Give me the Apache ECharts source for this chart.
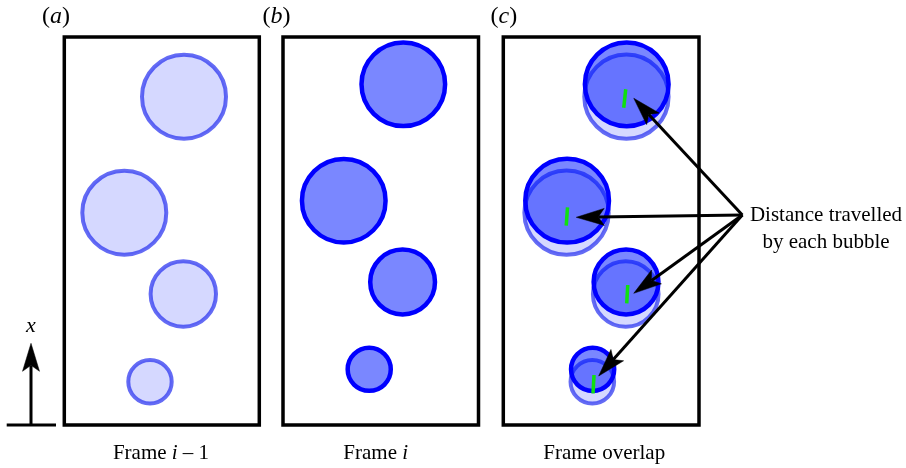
<!DOCTYPE html>
<html>
<head>
<meta charset="utf-8">
<script src="https://cdn.jsdelivr.net/npm/echarts@6/dist/echarts.min.js"></script>
<style>
  html, body { margin: 0; padding: 0; background: #fff; }
  #chart { width: 906px; height: 468px; }
</style>
</head>
<body>
<div id="chart"></div>
<script>
// Bubble centres and radii in frame units (x across the column, y up the column)
const prevX = [119.7, 60.0, 119.0, 85.7];
const prevY = [328.3, 212.3, 131.0, 43.3];
const prevR = [42.0, 42.0, 32.7, 21.7];

const currX = [120.0, 60.6, 119.3, 86.0];
const currY = [340.7, 224.3, 143.0, 55.7];
const currR = [41.7, 41.7, 32.3, 21.5];

// Displacement markers drawn in the overlap frame: [x1, y1, x2, y2]
const stepX1 = [117.0, 59.7, 120.0, 86.4];
const stepY1 = [317.3, 199.3, 121.7, 31.7];
const stepX2 = [119.0, 61.0, 121.0, 87.4];
const stepY2 = [335.7, 217.7, 140.0, 50.0];

// Call-out arrows: a shared origin and one tip per bubble
const calloutOrigin = [235.2, 210.0];
const tipX = [127.0, 69.7, 127.0, 92.0];
const tipY = [326.7, 207.7, 131.7, 49.0];

const panelTags = ['a', 'b', 'c'];
const frameNames = ['Frame {i|i} \u2013 1', 'Frame {i|i}', 'Frame overlap'];
const calloutText = ['Distance travelled', 'by each bubble'];

const FRAME_W = 195, FRAME_H = 388;
const SERIF = '"Liberation Serif", "Times New Roman", serif';
const FS = 21;
const TAG_FS = 24;

const LIGHT = { fill: 'rgba(30,50,255,0.19)', stroke: 'rgba(40,50,240,0.72)', lineWidth: 4 };
const DARK = { fill: 'rgba(0,25,255,0.52)', stroke: '#0000ff', lineWidth: 4.5 };

const chart = echarts.init(document.getElementById('chart'), null, { renderer: 'canvas' });

const gridBoxes = [
  { left: 64.3, top: 37, width: 195, height: 388 },
  { left: 283, top: 37, width: 195.5, height: 388 },
  { left: 503.3, top: 37, width: 195.7, height: 388 }
];
// the overlap frame's content sits a touch to the right inside its box
const xShift = [0, 0, -3];

function bubbleSeries(gi, xs, ys, rs, style, z) {
  return {
    type: 'custom', xAxisIndex: gi, yAxisIndex: gi, z: z, silent: true, clip: false,
    data: xs.map((x, i) => [x, ys[i], rs[i]]),
    encode: { x: 0, y: 1 },
    renderItem: function (params, api) {
      const c = api.coord([api.value(0), api.value(1)]);
      const r = api.size([api.value(2), 0])[0];
      return { type: 'circle', shape: { cx: c[0], cy: c[1], r: r }, style: Object.assign({}, style) };
    }
  };
}

const stepSeries = {
  type: 'custom', xAxisIndex: 2, yAxisIndex: 2, z: 5, silent: true, clip: false,
  data: stepX1.map((x, i) => [x, stepY1[i], stepX2[i], stepY2[i]]),
  encode: { x: [0, 2], y: [1, 3] },
  renderItem: function (params, api) {
    const a = api.coord([api.value(0), api.value(1)]);
    const b = api.coord([api.value(2), api.value(3)]);
    return { type: 'line', shape: { x1: a[0], y1: a[1], x2: b[0], y2: b[1] },
      style: { stroke: '#10e010', lineWidth: 3.5 } };
  }
};

function arrowShapes(o, t, color, width) {
  const dx = t[0] - o[0], dy = t[1] - o[1];
  const len = Math.hypot(dx, dy);
  const ux = dx / len, uy = dy / len;
  const nx = -uy, ny = ux;
  const L = 28, HW = 8.5, NOTCH = 22;
  const bx = t[0] - ux * L, by = t[1] - uy * L;
  const mx = t[0] - ux * NOTCH, my = t[1] - uy * NOTCH;
  return [
    { type: 'line', shape: { x1: o[0], y1: o[1], x2: mx, y2: my },
      style: { stroke: color, lineWidth: width } },
    { type: 'polygon', shape: { points: [t, [bx + nx * HW, by + ny * HW], [mx, my], [bx - nx * HW, by - ny * HW]] },
      style: { fill: color, stroke: color, lineWidth: 0.5 } }
  ];
}

const arrowSeries = {
  type: 'custom', xAxisIndex: 2, yAxisIndex: 2, z: 6, silent: true, clip: false,
  data: tipX.map((x, i) => [calloutOrigin[0], calloutOrigin[1], x, tipY[i]]),
  encode: { x: [0, 2], y: [1, 3] },
  renderItem: function (params, api) {
    const o = api.coord([api.value(0), api.value(1)]);
    const t = api.coord([api.value(2), api.value(3)]);
    return { type: 'group', children: arrowShapes(o, t, '#000', 3) };
  }
};

function richText(text, size) {
  return {
    text: text, fontFamily: SERIF, fontSize: size, fill: '#000',
    rich: {
      i: { fontFamily: SERIF, fontSize: size, fontStyle: 'italic', fill: '#000' }
    }
  };
}

const graphic = [];
// panel tags (a), (b), (c)
const tagLeft = [42, 262.5, 490.5];
panelTags.forEach((t, k) => {
  graphic.push({ type: 'text', x: tagLeft[k], y: 17,
    style: Object.assign(richText('({i|' + t + '})', TAG_FS), { align: 'left', verticalAlign: 'middle' }) });
});
// frame captions
const captionX = [161, 375.7, 604.2];
frameNames.forEach((t, k) => {
  graphic.push({ type: 'text', x: captionX[k], y: 453.8,
    style: Object.assign(richText(t, FS), { align: 'center', verticalAlign: 'middle' }) });
});
// call-out text
calloutText.forEach((t, k) => {
  graphic.push({ type: 'text', x: 826, y: 215 + k * 27.4,
    style: Object.assign(richText(t, FS), { align: 'center', verticalAlign: 'middle' }) });
});
// flow-direction indicator on the left
graphic.push({ type: 'line', shape: { x1: 6.7, y1: 425, x2: 56, y2: 425 },
  style: { stroke: '#000', lineWidth: 3 } });
arrowShapes([31, 425], [31, 343.3], '#000', 3).forEach(s => graphic.push(s));
graphic.push({ type: 'text', x: 31, y: 326.4,
  style: Object.assign(richText('{i|x}', 22), { align: 'center', verticalAlign: 'middle' }) });

const option = {
  animation: false,
  backgroundColor: '#fff',
  grid: gridBoxes.map(g => Object.assign({
    show: true, borderColor: '#000', borderWidth: 3.5, backgroundColor: 'transparent',
    containLabel: false, outerBoundsMode: 'none'
  }, g)),
  xAxis: gridBoxes.map((g, k) => ({ gridIndex: k, type: 'value', min: xShift[k], max: xShift[k] + FRAME_W, show: false })),
  yAxis: gridBoxes.map((g, k) => ({ gridIndex: k, type: 'value', min: 0, max: FRAME_H, show: false })),
  series: [
    bubbleSeries(0, prevX, prevY, prevR, LIGHT, 2),
    bubbleSeries(1, currX, currY, currR, DARK, 2),
    bubbleSeries(2, prevX, prevY, prevR, LIGHT, 2),
    bubbleSeries(2, currX, currY, currR, DARK, 3),
    stepSeries,
    arrowSeries
  ],
  graphic: graphic
};

chart.setOption(option);
</script>
</body>
</html>
